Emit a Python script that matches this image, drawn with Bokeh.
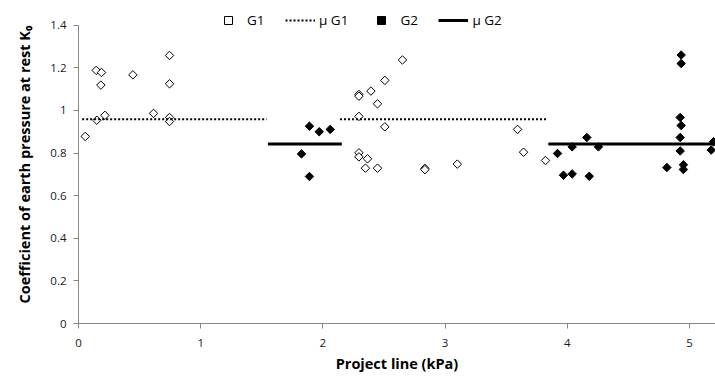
import math
from bokeh.plotting import figure
from bokeh.models import Range1d, FixedTicker, Legend, LegendItem
from bokeh.embed import file_html
from bokeh.resources import INLINE

# ---- data ----
g1_x = [0.055, 0.15, 0.145, 0.188, 0.183, 0.216, 0.445, 0.614, 0.745, 0.745, 0.745, 0.745,
        2.651, 2.507, 2.295, 2.295, 2.393, 2.447, 2.295, 2.507, 2.295, 2.295, 2.365, 2.348,
        2.447, 2.835, 2.835, 3.10, 3.593, 3.642, 3.822]
g1_y = [0.878, 0.954, 1.188, 1.178, 1.119, 0.977, 1.167, 0.986, 1.258, 1.125, 0.967, 0.948,
        1.237, 1.141, 1.075, 1.067, 1.091, 1.031, 0.972, 0.923, 0.801, 0.782, 0.773, 0.729,
        0.729, 0.728, 0.722, 0.748, 0.911, 0.804, 0.765]

g2_x = [1.89, 1.97, 2.06, 1.825, 1.89, 4.16, 4.04, 4.255, 3.92, 3.969, 4.04, 4.18,
        4.932, 4.932, 4.924, 4.932, 4.924, 4.924, 4.815, 4.95, 4.95, 5.178, 5.197]
g2_y = [0.926, 0.90, 0.911, 0.796, 0.69, 0.873, 0.829, 0.829, 0.798, 0.696, 0.702, 0.691,
        1.26, 1.22, 0.967, 0.929, 0.873, 0.81, 0.732, 0.745, 0.723, 0.814, 0.853]

mu_g1 = 0.959
mu_g1_x0 = [0.03, 2.14]
mu_g1_x1 = [1.54, 3.83]

mu_g2 = 0.843
mu_g2_x0 = [1.55, 3.845]
mu_g2_x1 = [2.155, 5.21]

x_ticks = [0, 1, 2, 3, 4, 5]
y_ticks = [0, 0.2, 0.4, 0.6, 0.8, 1.0, 1.2, 1.4]
y_tick_labels = ["0", "0.2", "0.4", "0.6", "0.8", "1", "1.2", "1.4"]
y_axis_max = 1.4

FONT = "Open Sans"

# the frame runs a little above 1.4 to leave room for the legend; the axis stops at 1.4
p = figure(width=715, height=383, output_backend="svg", toolbar_location=None,
           x_range=Range1d(0, 5.213), y_range=Range1d(0, 1.4925),
           min_border_left=78, min_border_right=0, min_border_top=5, min_border_bottom=60)
p.outline_line_color = None
p.xgrid.grid_line_color = None
p.ygrid.grid_line_color = None

# data markers: diamonds (squares turned 45 degrees)
r_g1 = p.scatter(g1_x, g1_y, marker="square", angle=math.pi / 4, size=6,
                 fill_color="white", line_color="black", line_width=1)
r_mu1 = p.segment(x0=mu_g1_x0, y0=[mu_g1] * len(mu_g1_x0), x1=mu_g1_x1, y1=[mu_g1] * len(mu_g1_x1),
                  line_color="black", line_width=2, line_dash="2 2")
r_g2 = p.scatter(g2_x, g2_y, marker="square", angle=math.pi / 4, size=6,
                 fill_color="black", line_color="black", line_width=1)
r_mu2 = p.segment(x0=mu_g2_x0, y0=[mu_g2] * len(mu_g2_x0), x1=mu_g2_x1, y1=[mu_g2] * len(mu_g2_x1),
                  line_color="black", line_width=3)

# axes
for ax in (p.xaxis[0], p.yaxis[0]):
    ax.axis_line_color = "#868686"
    ax.major_tick_line_color = "#868686"
    ax.minor_tick_line_color = None
    ax.major_tick_out = 5
    ax.major_tick_in = 0
    ax.major_label_text_font = FONT
    ax.major_label_text_font_size = "11.5px"
    ax.major_label_text_color = "#1a1a1a"
    ax.axis_label_text_font = FONT
    ax.axis_label_text_font_size = "14.5px"
    ax.axis_label_text_font_style = "bold"
    ax.axis_label_text_color = "black"

p.yaxis.bounds = (0, y_axis_max)
p.xaxis.ticker = FixedTicker(ticks=x_ticks)
p.yaxis.ticker = FixedTicker(ticks=y_ticks)
p.yaxis.major_label_overrides = {t: s for t, s in zip(y_ticks, y_tick_labels)}
p.xaxis.axis_label = "Project line (kPa)"
p.yaxis.axis_label = "Coefficient of earth pressure at rest K\u2080"
p.xaxis.major_label_standoff = 10
p.xaxis.axis_label_standoff = 4
p.yaxis.major_label_standoff = 7
p.yaxis.axis_label_standoff = 13

legend = Legend(items=[
    LegendItem(label="G1", renderers=[r_g1]),
    LegendItem(label="\u03bc G1", renderers=[r_mu1]),
    LegendItem(label="G2", renderers=[r_g2]),
    LegendItem(label="\u03bc G2", renderers=[r_mu2]),
], orientation="horizontal", location=(135, 293))
legend.margin = 0
legend.padding = 0
legend.spacing = 18
legend.glyph_width = 30
legend.glyph_height = 20
legend.label_height = 16
legend.label_standoff = 4
legend.label_text_font = FONT
legend.label_text_font_size = "13.5px"
legend.label_text_color = "black"
legend.background_fill_alpha = 0
legend.border_line_alpha = 0
p.add_layout(legend)

open("out.html", "w").write(file_html(p, INLINE))
